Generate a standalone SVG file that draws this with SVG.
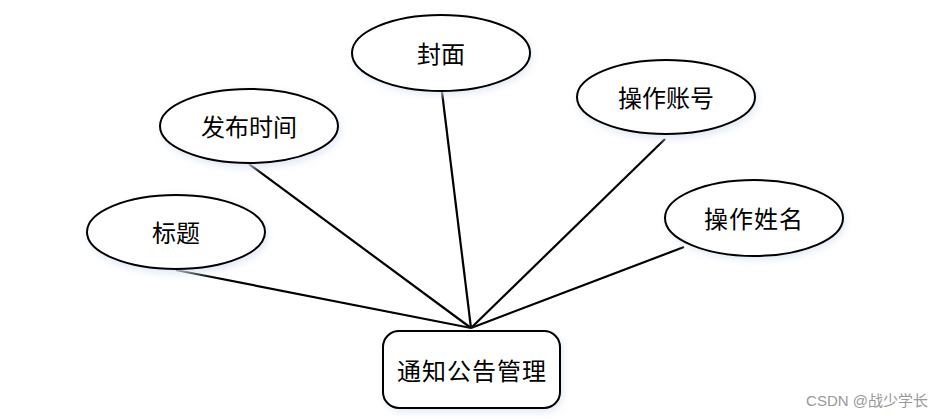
<svg xmlns="http://www.w3.org/2000/svg" width="945" height="419" viewBox="0 0 945 419">
<defs>
<filter id="glow" x="-20%" y="-30%" width="140%" height="160%">
<feGaussianBlur stdDeviation="4"/>
</filter>
<style>
.sh{fill:#dce6f4;filter:url(#glow)}
.nd{fill:#fff;stroke:#000;stroke-width:2}
.t{font-family:"Noto Sans CJK SC","Noto Sans",sans-serif;font-size:24px;fill:#000;text-anchor:middle;dominant-baseline:central}
.ln{stroke:#000;stroke-width:2.2;fill:none}
</style>
</defs>
<rect width="945" height="419" fill="#fff"/>
<g id="connectors">
<line class="ln" x1="176" y1="270" x2="471" y2="328"/>
<line class="ln" x1="249" y1="164" x2="471" y2="328"/>
<line class="ln" x1="442" y1="92" x2="471" y2="328"/>
<line class="ln" x1="665" y1="139" x2="471" y2="328"/>
<line class="ln" x1="684" y1="247" x2="471" y2="328"/>
</g>
<g id="n-biaoti">
<ellipse class="sh" cx="178" cy="235" rx="89" ry="38"/>
<ellipse class="nd" cx="176" cy="232" rx="89" ry="37"/>
<text class="t" x="176" y="231">标题</text>
</g>
<g id="n-fabushijian">
<ellipse class="sh" cx="251" cy="129" rx="89" ry="38"/>
<ellipse class="nd" cx="249" cy="126" rx="89" ry="37"/>
<text class="t" x="249" y="125">发布时间</text>
</g>
<g id="n-fengmian">
<ellipse class="sh" cx="443" cy="56" rx="89" ry="38"/>
<ellipse class="nd" cx="441" cy="53" rx="89" ry="38"/>
<text class="t" x="441" y="52">封面</text>
</g>
<g id="n-caozuozhanghao">
<ellipse class="sh" cx="668" cy="100" rx="89" ry="38"/>
<ellipse class="nd" cx="666" cy="97" rx="89" ry="37"/>
<text class="t" x="666" y="96">操作账号</text>
</g>
<g id="n-caozuoxingming">
<ellipse class="sh" cx="756" cy="221" rx="89" ry="38"/>
<ellipse class="nd" cx="754" cy="218" rx="89" ry="38"/>
<text class="t" x="754" y="217" letter-spacing="1">操作姓名</text>
</g>
<g id="n-tongzhi">
<rect class="sh" x="385" y="334" width="177" height="77" rx="16"/>
<rect class="nd" x="383" y="331" width="177" height="77" rx="16"/>
<text class="t" x="472" y="369" letter-spacing="1">通知公告管理</text>
</g>
<text x="928" y="400" font-family="'Liberation Sans','Noto Sans CJK SC',sans-serif" font-size="15" fill="#999" text-anchor="end" dominant-baseline="central">CSDN @战少学长</text>
</svg>
